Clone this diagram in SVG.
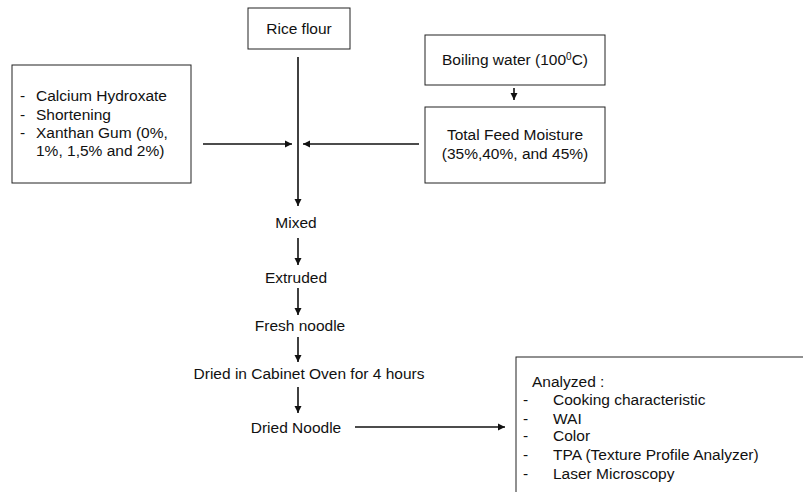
<svg xmlns="http://www.w3.org/2000/svg" width="803" height="492" viewBox="0 0 803 492">
<style>
text{font-family:"Liberation Sans",Arial,sans-serif;font-size:15.5px;fill:#111}
.box{fill:#fff;stroke:#222;stroke-width:1}
.c{text-anchor:middle}
.ln{stroke:#111;stroke-width:1.6;fill:none}
</style>
<defs>
<marker id="ah" markerWidth="8" markerHeight="8" refX="7" refY="4" orient="auto" markerUnits="userSpaceOnUse">
<path d="M0,0.5 L7,4 L0,7.5 Z" fill="#111"/>
</marker>
</defs>
<rect width="803" height="492" fill="#fff"/>
<g id="connectors">
<path class="ln" d="M298,57 V206" marker-end="url(#ah)"/>
<path class="ln" d="M203,144 H292" marker-end="url(#ah)"/>
<path class="ln" d="M419,144 H303" marker-end="url(#ah)"/>
<path class="ln" d="M514,88 V100" marker-end="url(#ah)"/>
<path class="ln" d="M298,238 V265" marker-end="url(#ah)"/>
<path class="ln" d="M298,288 V315" marker-end="url(#ah)"/>
<path class="ln" d="M298,337 V362" marker-end="url(#ah)"/>
<path class="ln" d="M298,387 V413" marker-end="url(#ah)"/>
<path class="ln" d="M355,427 H505" marker-end="url(#ah)"/>
</g>
<g id="additives">
<rect class="box" x="12" y="65" width="179" height="118"/>
<text x="20" y="101">-</text><text x="36" y="101">Calcium Hydroxate</text>
<text x="20" y="119.5">-</text><text x="36" y="119.5">Shortening</text>
<text x="20" y="138">-</text><text x="36" y="138">Xanthan Gum (0%,</text>
<text x="36" y="156">1%, 1,5% and 2%)</text>
</g>
<g id="rice-flour">
<rect class="box" x="248" y="8" width="102" height="41"/>
<text class="c" x="299" y="34">Rice flour</text>
</g>
<g id="boiling-water">
<rect class="box" x="425" y="35" width="180" height="50"/>
<text class="c" x="515" y="65">Boiling water (100<tspan font-size="10" dy="-5">0</tspan><tspan dy="5">C)</tspan></text>
</g>
<g id="total-feed-moisture">
<rect class="box" x="425" y="107" width="180" height="76"/>
<text class="c" x="515" y="140">Total Feed Moisture</text>
<text class="c" x="515" y="159">(35%,40%, and 45%)</text>
</g>
<g id="mixed"><text class="c" x="296" y="227.5">Mixed</text></g>
<g id="extruded"><text class="c" x="296" y="282.5">Extruded</text></g>
<g id="fresh-noodle"><text class="c" x="300" y="330.5">Fresh noodle</text></g>
<g id="dried-oven"><text class="c" x="309" y="378.5">Dried in Cabinet Oven for 4 hours</text></g>
<g id="dried-noodle"><text class="c" x="296" y="432.5">Dried Noodle</text></g>
<g id="analyzed">
<rect class="box" x="516" y="357" width="300" height="200"/>
<text x="532" y="387">Analyzed :</text>
<text x="523" y="405">-</text><text x="553" y="405">Cooking characteristic</text>
<text x="523" y="424">-</text><text x="553" y="424">WAI</text>
<text x="523" y="441">-</text><text x="553" y="441">Color</text>
<text x="523" y="460">-</text><text x="553" y="460">TPA (Texture Profile Analyzer)</text>
<text x="523" y="479">-</text><text x="553" y="479">Laser Microscopy</text>
</g>
</svg>
